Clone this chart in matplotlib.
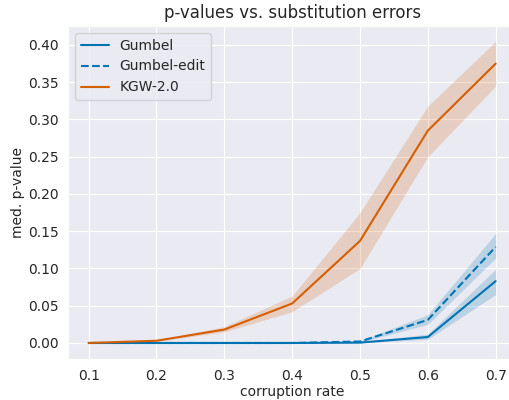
import numpy as np
import matplotlib
matplotlib.use("Agg")
import matplotlib.pyplot as plt
import seaborn as sns

sns.set_style("darkgrid")

rates = [0.1, 0.2, 0.3, 0.4, 0.5, 0.6, 0.7]

gumbel = [0.0, 0.0, 0.0, 0.0, 0.0005, 0.008, 0.083]
gumbel_lo = [0.0, 0.0, 0.0, 0.0, 0.0, 0.005, 0.065]
gumbel_hi = [0.0, 0.0, 0.0, 0.0, 0.001, 0.012, 0.099]

gedit = [0.0, 0.0, 0.0, 0.0, 0.002, 0.031, 0.129]
gedit_lo = [0.0, 0.0, 0.0, 0.0, 0.001, 0.025, 0.114]
gedit_hi = [0.0, 0.0, 0.0, 0.0, 0.003, 0.038, 0.147]

kgw = [0.0, 0.003, 0.018, 0.053, 0.137, 0.285, 0.375]
kgw_lo = [0.0, 0.002, 0.015, 0.042, 0.100, 0.250, 0.345]
kgw_hi = [0.0, 0.004, 0.022, 0.063, 0.175, 0.318, 0.405]

BLUE = "#0173b2"
ORANGE = "#d55e00"

fig = plt.figure(figsize=(5.09, 4.0), dpi=100)
# axes run past the right edge, as in the (tightly cropped) original
ax = fig.add_axes([68.3 / 509, 41 / 400, (516 - 68.3) / 509, 333 / 400])

ax.plot(rates, gumbel, "-", color=BLUE, lw=1.5, label="Gumbel")
ax.fill_between(rates, gumbel_lo, gumbel_hi, color=BLUE, alpha=0.2, lw=0)
ax.plot(rates, gedit, "--", color=BLUE, lw=1.5, label="Gumbel-edit")
ax.fill_between(rates, gedit_lo, gedit_hi, color=BLUE, alpha=0.2, lw=0)
ax.plot(rates, kgw, "-", color=ORANGE, lw=1.5, label="KGW-2.0")
ax.fill_between(rates, kgw_lo, kgw_hi, color=ORANGE, alpha=0.2, lw=0)

ax.set_xticks(rates)
ax.set_xlim(0.07, 0.73)
ax.set_yticks(np.arange(0, 0.41, 0.05))
ax.set_ylim(-0.0215, 0.4255)
ax.set_xlabel("corruption rate", labelpad=1.5)
ax.set_ylabel("med. p-value", labelpad=2)
ax.set_title("p-values vs. substitution errors", fontsize=12)
ax.legend(loc="upper left")

fig.savefig("out.png", dpi=100)
